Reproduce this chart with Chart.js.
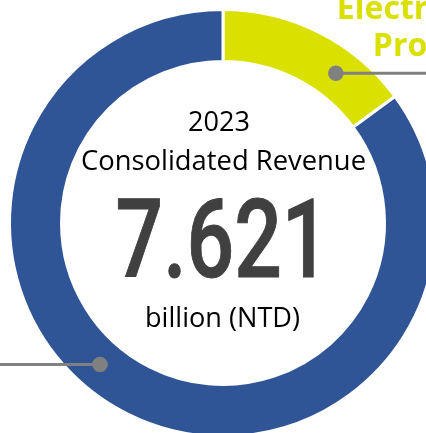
<!DOCTYPE html>
<html><head><meta charset="utf-8">
<script src="https://cdn.jsdelivr.net/npm/chart.js@4"></script>
<style>
html,body{margin:0;padding:0;overflow:hidden;background:#fff;width:426px;height:433px}
#wrap{position:absolute;left:0;top:0;width:446px;height:446px}
</style>
</head><body><div id="wrap"><canvas id="c"></canvas></div>
<script>
// ---- data ----
const categories = ['Electronic Products', 'Other Products'];
const shares = [14.9, 85.1];            // % of 2023 consolidated revenue
const sliceColors = ['#dae000', '#2f5597'];
const yearLabel = '2023';
const titleLabel = 'Consolidated Revenue';
const totalLabel = '7.621';
const unitLabel = 'billion (NTD)';
const calloutLines = [['Electronic', 'Products'], []];

// ---- styles ----
const anchorDeg = [37, 221];   // where leader dots sit on each slice (deg clockwise from top)
const leaderColor = '#808080';

function fitText(ctx, text, cx, base, font, targetW, color, strokeW) {
  ctx.save();
  ctx.font = font;
  const w = ctx.measureText(text).width;
  ctx.translate(cx, base);
  ctx.scale(targetW / w, 1);
  ctx.textAlign = 'center';
  ctx.textBaseline = 'alphabetic';
  ctx.fillStyle = color;
  ctx.fillText(text, 0, 0);
  if (strokeW) {
    ctx.strokeStyle = color;
    ctx.lineWidth = strokeW;
    ctx.lineJoin = 'miter';
    ctx.strokeText(text, 0, 0);
  }
  ctx.restore();
}

const overlay = {
  id: 'overlay',
  afterDatasetsDraw(chart) {
    const ctx = chart.ctx;
    const meta = chart.getDatasetMeta(0);
    meta.data.forEach((arc, i) => {
      const p = arc.getProps(['x', 'y', 'innerRadius', 'outerRadius'], true);
      const rm = (p.innerRadius + p.outerRadius) / 2;
      const a = (anchorDeg[i] - 90) * Math.PI / 180;
      const px = p.x + rm * Math.cos(a), py = p.y + rm * Math.sin(a);
      const endX = Math.cos(a) >= 0 ? chart.width : 0;
      ctx.save();
      ctx.strokeStyle = leaderColor;
      ctx.lineWidth = 2.8;
      ctx.beginPath();
      ctx.moveTo(px, py);
      ctx.lineTo(endX, py);
      ctx.stroke();
      ctx.fillStyle = leaderColor;
      ctx.beginPath();
      ctx.arc(px, py, 7.8, 0, Math.PI * 2);
      ctx.fill();
      // callout text
      const lines = calloutLines[i];
      if (lines.length) {
        ctx.font = 'bold 32px "Open Sans"';
        ctx.fillStyle = sliceColors[i];
        ctx.textAlign = 'left';
        ctx.textBaseline = 'alphabetic';
        ctx.fillText(lines[0], px + 1, py - 54);
        ctx.fillText(lines[1], px + 37, py - 17);
      }
      ctx.restore();
    });
  },
  afterDraw(chart) {
    const ctx = chart.ctx;
    const arc = chart.getDatasetMeta(0).data[0];
    const cx = arc.x, cy = arc.y;
    fitText(ctx, yearLabel, cx - 4, cy - 92, '27.5px "Open Sans"', 62, '#000');
    fitText(ctx, titleLabel, cx + 0.5, cy - 53, '27.5px "Open Sans"', 285, '#000');
    fitText(ctx, totalLabel, cx - 0.5, cy + 54, '500 110px Roboto', 214, '#404040', 1);
    fitText(ctx, unitLabel, cx - 0.5, cy + 104, '27.5px "Open Sans"', 155, '#000');
  }
};

new Chart(document.getElementById('c'), {
  type: 'doughnut',
  data: {
    labels: categories,
    datasets: [{
      data: shares,
      backgroundColor: sliceColors,
      borderColor: '#ffffff',
      borderWidth: 3,
      hoverOffset: 0,
      hoverBorderWidth: 3
    }]
  },
  options: {
    responsive: true,
    maintainAspectRatio: false,
    animation: false,
    events: [],
    radius: 213.5,
    cutout: '75.64%',
    layout: { padding: 0 },
    plugins: { legend: { display: false }, tooltip: { enabled: false } }
  },
  plugins: [overlay]
});
</script>
</body></html>
